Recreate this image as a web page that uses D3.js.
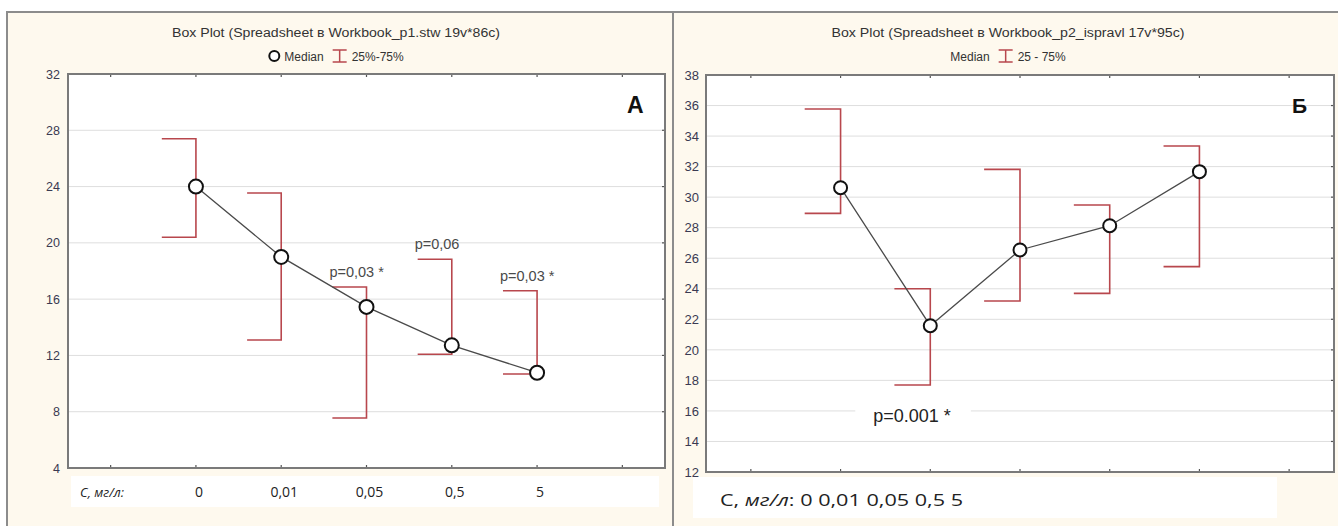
<!DOCTYPE html>
<html>
<head>
<meta charset="utf-8">
<script src="https://cdn.jsdelivr.net/npm/d3@7"></script>
<style>
  html, body { margin: 0; padding: 0; background: #fff; }
  svg { display: block; }
</style>
</head>
<body>
<div id="chart"></div>
<script>
// panel A data
const categoriesA = ['0', '0,01', '0,05', '0,5', '5'];
const medianA = [24.0, 19.0, 15.45, 12.72, 10.77];
const q25A = [20.4, 13.1, 7.55, 12.08, 10.68];
const q75A = [27.4, 23.54, 16.86, 18.83, 16.6];
const yTicksA = [4, 8, 12, 16, 20, 24, 28, 32];
const notesA = [
  { cat: '0,05', text: 'p=0,03 *' },
  { cat: '0,5', text: 'p=0,06' },
  { cat: '5', text: 'p=0,03 *' }
];

// panel B data
const categoriesB = ['0', '0,01', '0,05', '0,5', '5'];
const medianB = [30.62, 21.58, 26.54, 28.13, 31.67];
const q25B = [28.94, 17.7, 23.2, 23.7, 25.45];
const q75B = [35.77, 24.0, 31.82, 29.49, 33.35];
const yTicksB = [12, 14, 16, 18, 20, 22, 24, 26, 28, 30, 32, 34, 36, 38];
const notesB = [{ cat: '0,01', text: 'p=0.001 *', value: 15.3 }];

const W = 1338, H = 526;
const RED = '#b8474d';
const BG = '#fef9ee';
const NARROW = '"Liberation Sans Narrow", "Liberation Sans", Arial, sans-serif';

const svg = d3.select('#chart').append('svg')
  .attr('width', W).attr('height', H);

// outer frame
svg.append('rect').attr('x', 7).attr('y', 12).attr('width', W).attr('height', H)
  .attr('fill', BG).attr('stroke', '#8c8c8c').attr('stroke-width', 2);
svg.append('line').attr('x1', 673).attr('x2', 673).attr('y1', 12).attr('y2', H)
  .attr('stroke', '#8c8c8c').attr('stroke-width', 2);

function drawPanel(cfg) {
  const g = svg.append('g');
  const slots = ['_l', ...cfg.categories, '_r'];
  const x = d3.scalePoint().domain(slots).range([cfg.left, cfg.right]).padding(0.5);
  const y = d3.scaleLinear().domain(cfg.yDomain).range([cfg.bottom, cfg.top]);
  const arm = x.step() * 0.4;

  // title + legend
  g.append('text')
    .attr('x', cfg.titleX).attr('y', 37)
    .attr('text-anchor', 'middle')
    .attr('font-family', NARROW).attr('font-size', 12).attr('fill', '#333')
    .attr('textLength', cfg.titleWidth).attr('lengthAdjust', 'spacingAndGlyphs')
    .text(cfg.title);

  const leg = g.append('g');
  let lx = 0;
  const ly = 56;
  if (cfg.legendCircle) {
    leg.append('circle').attr('cx', lx + 6).attr('cy', ly).attr('r', 5)
      .attr('fill', '#fff').attr('stroke', '#111').attr('stroke-width', 2);
    lx += 16;
  }
  const t1 = leg.append('text').attr('x', lx).attr('y', ly + 4.5)
    .attr('font-family', NARROW).attr('font-size', 12).attr('fill', '#333')
    .text('Median');
  lx += t1.node().getComputedTextLength() + 9;
  leg.append('path')
    .attr('d', `M${lx},${ly - 6}H${lx + 14}M${lx + 7},${ly - 6}V${ly + 6}M${lx},${ly + 6}H${lx + 14}`)
    .attr('stroke', RED).attr('stroke-width', 1.5).attr('fill', 'none');
  lx += 19;
  const t2 = leg.append('text').attr('x', lx).attr('y', ly + 4.5)
    .attr('font-family', NARROW).attr('font-size', 12).attr('fill', '#333')
    .text(cfg.legendRange);
  lx += t2.node().getComputedTextLength();
  leg.attr('transform', `translate(${cfg.titleX - lx / 2},0)`);

  // plot area
  g.append('rect')
    .attr('x', cfg.left).attr('y', cfg.top)
    .attr('width', cfg.right - cfg.left).attr('height', cfg.bottom - cfg.top)
    .attr('fill', '#fff');

  // gridlines
  g.append('g').selectAll('line')
    .data(cfg.yTicks.filter(d => d !== cfg.yDomain[0] && d !== cfg.yDomain[1]))
    .join('line')
    .attr('x1', cfg.left).attr('x2', cfg.right)
    .attr('y1', d => y(d)).attr('y2', d => y(d))
    .attr('stroke', '#dedede').attr('stroke-width', 1);

  // small ticks on top / bottom / right edges
  const xt = g.append('g').attr('stroke', '#555').attr('stroke-width', 1.2);
  slots.forEach(s => {
    xt.append('line').attr('x1', x(s)).attr('x2', x(s)).attr('y1', cfg.top).attr('y2', cfg.top + 3);
    xt.append('line').attr('x1', x(s)).attr('x2', x(s)).attr('y1', cfg.bottom).attr('y2', cfg.bottom - 3);
  });
  cfg.yTicks.forEach(v => {
    xt.append('line').attr('x1', cfg.right).attr('x2', cfg.right - 3).attr('y1', y(v)).attr('y2', y(v));
  });

  // y labels
  const yAxis = d3.axisLeft(y).tickValues(cfg.yTicks).tickSize(0).tickPadding(cfg.yLabelPad);
  const ya = g.append('g').attr('transform', `translate(${cfg.left},0)`).call(yAxis);
  ya.select('.domain').remove();
  ya.selectAll('text')
    .attr('font-family', NARROW).attr('font-size', cfg.yFont)
    .attr('fill', '#3a3a52');

  // plot border
  g.append('rect')
    .attr('x', cfg.left).attr('y', cfg.top)
    .attr('width', cfg.right - cfg.left).attr('height', cfg.bottom - cfg.top)
    .attr('fill', 'none').attr('stroke', '#7a7a7a').attr('stroke-width', 2);

  // brackets 25-75%
  const rows = cfg.categories.map((c, i) => ({
    cat: c, med: cfg.median[i], lo: cfg.q25[i], hi: cfg.q75[i]
  }));
  g.append('g').selectAll('path')
    .data(rows)
    .join('path')
    .attr('d', d => `M${x(d.cat) - arm},${y(d.hi)}H${x(d.cat)}V${y(d.lo)}H${x(d.cat) - arm}`)
    .attr('fill', 'none').attr('stroke', RED).attr('stroke-width', 1.6);

  // median line
  g.append('path')
    .datum(rows)
    .attr('d', d3.line().x(d => x(d.cat)).y(d => y(d.med)))
    .attr('fill', 'none').attr('stroke', '#4a4a4a').attr('stroke-width', 1.3);

  g.append('g').selectAll('circle')
    .data(rows)
    .join('circle')
    .attr('cx', d => x(d.cat)).attr('cy', d => y(d.med)).attr('r', cfg.r)
    .attr('fill', '#fff').attr('stroke', '#111').attr('stroke-width', 2);

  // p-value notes
  cfg.notes.forEach(n => {
    const i = cfg.categories.indexOf(n.cat);
    if (n.value !== undefined) {
      const tx = x(n.cat) - 57;
      const ty = y(n.value);
      const t = g.append('text').attr('x', tx).attr('y', ty)
        .attr('font-family', '"Liberation Sans", Arial, sans-serif')
        .attr('font-size', 18).attr('fill', '#222').text(n.text);
      const w = t.node().getComputedTextLength();
      g.insert('rect', () => t.node())
        .attr('x', tx - 18).attr('y', ty - 16).attr('width', w + 38).attr('height', 22)
        .attr('fill', '#fff');
    } else {
      g.append('text')
        .attr('x', x(n.cat) - arm - 3).attr('y', y(cfg.q75[i]) - 10)
        .attr('font-family', '"Liberation Sans", Arial, sans-serif')
        .attr('font-size', 14.5).attr('fill', '#4a4a4a').text(n.text);
    }
  });

  // panel letter
  g.append('text')
    .attr('x', cfg.letterX).attr('y', 113)
    .attr('font-family', '"Liberation Sans", Arial, sans-serif')
    .attr('font-weight', 'bold').attr('font-size', cfg.letterFont).attr('fill', '#111')
    .text(cfg.letter);

  return { g, x, y };
}

// panel A
const pa = drawPanel({
  categories: categoriesA, median: medianA, q25: q25A, q75: q75A,
  yTicks: yTicksA, yDomain: [4, 32], notes: notesA,
  left: 68, right: 665, top: 74, bottom: 468,
  title: 'Box Plot (Spreadsheet в Workbook_p1.stw 19v*86c)',
  titleX: 336, titleWidth: 328,
  legendCircle: true, legendRange: '25%-75%',
  yFont: 12.5, yLabelPad: 8, r: 7,
  letter: 'А', letterX: 627, letterFont: 23
});

// category labels row, A
const rowA = pa.g.append('g');
rowA.append('rect').attr('x', 71).attr('y', 476).attr('width', 588).attr('height', 31).attr('fill', '#fff');
rowA.append('text').attr('x', 80).attr('y', 497)
  .attr('font-family', '"Open Sans", "Liberation Sans", sans-serif')
  .attr('font-size', 13).attr('font-style', 'italic').attr('fill', '#222')
  .text('С, мг/л:');
rowA.selectAll('text.cat')
  .data(categoriesA)
  .join('text')
  .attr('class', 'cat')
  .attr('x', d => pa.x(d) + 3).attr('y', 497)
  .attr('text-anchor', 'middle')
  .attr('font-family', '"Open Sans", "Liberation Sans", sans-serif')
  .attr('font-size', 14).attr('fill', '#222')
  .text(d => d);

// panel B
const pb = drawPanel({
  categories: categoriesB, median: medianB, q25: q25B, q75: q75B,
  yTicks: yTicksB, yDomain: [12, 38], notes: notesB,
  left: 706, right: 1334, top: 75, bottom: 472,
  title: 'Box Plot (Spreadsheet в Workbook_p2_ispravl 17v*95c)',
  titleX: 1008, titleWidth: 353,
  legendCircle: false, legendRange: '25 - 75%',
  yFont: 13, yLabelPad: 7, r: 6.5,
  letter: 'Б', letterX: 1292, letterFont: 21
});

// category labels row, B
const rowB = pb.g.append('g');
rowB.append('rect').attr('x', 693).attr('y', 477).attr('width', 584).attr('height', 41).attr('fill', '#fff');
const tb = rowB.append('text').attr('x', 720).attr('y', 506)
  .attr('font-family', '"Open Sans", "Liberation Sans", sans-serif')
  .attr('font-size', 17).attr('fill', '#222')
  .attr('textLength', 243).attr('lengthAdjust', 'spacingAndGlyphs');
tb.append('tspan').text('С, ');
tb.append('tspan').attr('font-style', 'italic').text('мг/л');
tb.append('tspan').text(':  ' + categoriesB.join(' ').replace('0 0,01', '0  0,01'));
</script>
</body>
</html>
